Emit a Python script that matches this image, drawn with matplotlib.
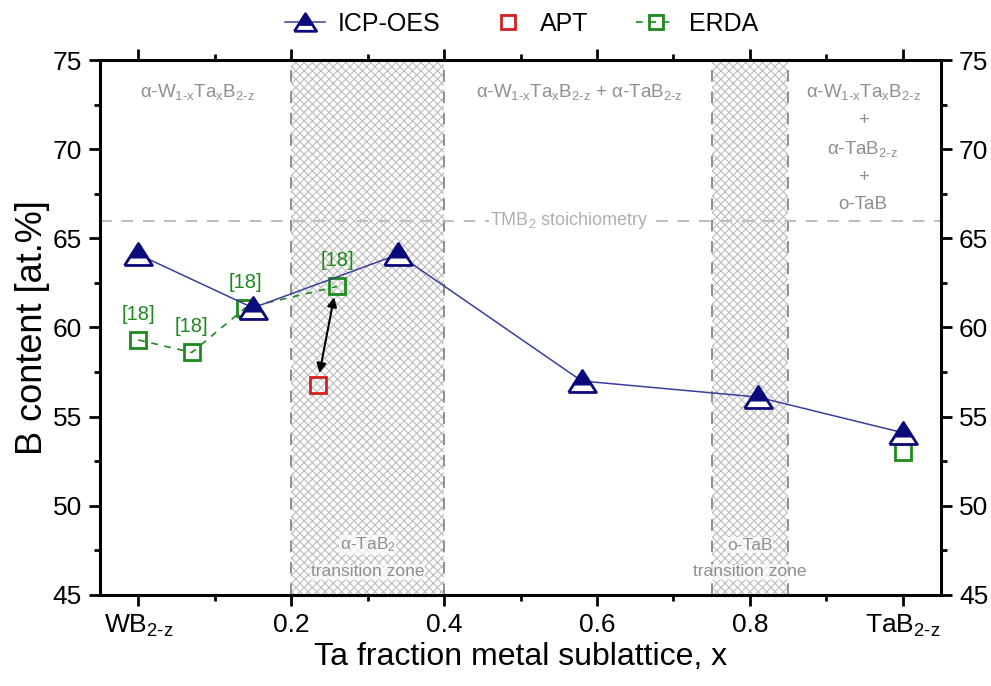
import matplotlib
matplotlib.use("Agg")
import matplotlib.pyplot as plt
from matplotlib.ticker import MultipleLocator
from matplotlib.legend_handler import HandlerTuple

plt.rcParams["font.family"] = ["Liberation Sans", "DejaVu Sans"]
plt.rcParams["mathtext.fontset"] = "custom"
plt.rcParams["mathtext.rm"] = "Liberation Sans"
plt.rcParams["mathtext.it"] = "Liberation Sans:italic"
plt.rcParams["hatch.linewidth"] = 0.8

# B-Gehalt über Ta-Anteil im Metall-Untergitter
icp_x = [0.0, 0.15, 0.34, 0.58, 0.81, 1.0]
icp_b = [64.1, 61.1, 64.1, 57.0, 56.1, 54.1]

apt_x = [0.235]
apt_b = [56.8]

erda_x = [0.0, 0.07, 0.14, 0.26]
erda_b = [59.3, 58.6, 61.1, 62.3]
erda_tab_x = [1.0]
erda_tab_b = [53.0]

zonas = [(0.2, 0.4), (0.75, 0.85)]
stoich = 66.0

xticks = [0.0, 0.2, 0.4, 0.6, 0.8, 1.0]
xlabels = ["WB$_{\\mathrm{2\u2010z}}$", "0.2", "0.4", "0.6", "0.8", "TaB$_{\\mathrm{2\u2010z}}$"]
yticks = [45, 50, 55, 60, 65, 70, 75]

navy = "#0a0a7a"
verde = "#1e8a1e"
rojo = "#d42020"
gris = "#8f8f8f"

# triangulo ancho: contorno blanco + punta rellena
tri_borde = [(-1, -0.79), (1, -0.79), (0, 0.79), (-1, -0.79)]
tri_punta = [(0, 0.79), (-0.65, -0.24), (0.65, -0.24), (0, 0.79)]
ms_tri = 20

fig = plt.figure(figsize=(9.91, 6.86), dpi=100)
ax = fig.add_axes([0.101, 0.1327, 0.8486, 0.7798])

# zonas de transicion
for x0, x1 in zonas:
    ax.axvspan(x0, x1, facecolor="white", edgecolor="#bdbdbd", hatch="xxxx", lw=0, zorder=0)
    for xv in (x0, x1):
        ax.axvline(xv, color=gris, lw=1.4, ls=(0, (6, 5)), zorder=1)

ax.axhline(stoich, color="#bdbdbd", lw=1.4, ls=(0, (6, 5)), zorder=1)
ax.text(0.564, stoich, "TMB$_{\\mathrm{2}}$ stoichiometry", color="#b0b0b0", fontsize=13,
        ha="center", va="center", zorder=2,
        bbox=dict(facecolor="white", edgecolor="none", pad=1))

# etiquetas de fases
fase = "\u03b1-W$_{\\mathrm{1\u2010x}}$Ta$_{\\mathrm{x}}$B$_{\\mathrm{2\u2010z}}$"
fs_fase = 13.5
ax.text(0.078, 73.2, fase, color=gris, fontsize=fs_fase, ha="center", va="center")
ax.text(0.577, 73.2, fase + " + \u03b1-TaB$_{\\mathrm{2\u2010z}}$", color=gris, fontsize=fs_fase,
        ha="center", va="center")
ax.text(0.948, 73.2, fase, color=gris, fontsize=fs_fase, ha="center", va="center")
for yy, t in zip([71.6, 70.0, 68.4, 66.9], ["+", "\u03b1-TaB$_{\\mathrm{2\u2010z}}$", "+", "o-TaB"]):
    ax.text(0.948, yy, t, color=gris, fontsize=fs_fase, ha="center", va="center")

caja = dict(facecolor="white", edgecolor="none", alpha=0.7, pad=0.5)
ax.text(0.3, 47.8, "\u03b1-TaB$_{\\mathrm{2}}$", color=gris, fontsize=12.5, ha="center", va="center", bbox=caja)
ax.text(0.3, 46.3, "transition zone", color=gris, fontsize=12.5, ha="center", va="center", bbox=caja)
ax.text(0.8, 47.8, "o-TaB", color=gris, fontsize=12.5, ha="center", va="center", bbox=caja)
ax.text(0.8, 46.3, "transition zone", color=gris, fontsize=12.5, ha="center", va="center", bbox=caja)

# datos
erda_l, = ax.plot(erda_x, erda_b, color=verde, lw=1.2, ls=(0, (4, 4)), marker="s", ms=12,
                  mfc="none", mec=verde, mew=2, zorder=3)
ax.plot(erda_tab_x, erda_tab_b, ls="none", marker="s", ms=12, mfc="none", mec=verde, mew=2, zorder=3)
icp_l, = ax.plot(icp_x, icp_b, color="#3a3f9a", lw=1.1, marker=tri_borde, ms=ms_tri,
                 mfc="white", mec=navy, mew=2, zorder=4)
icp_f, = ax.plot(icp_x, icp_b, ls="none", marker=tri_punta, ms=ms_tri * 0.79,
                 mfc=navy, mec=navy, mew=1, zorder=5)
apt_l, = ax.plot(apt_x, apt_b, ls="none", marker="s", ms=12, mfc="none", mec=rojo, mew=2, zorder=3)

for xx, yy in zip(erda_x, erda_b):
    ax.text(xx, yy + 1.45, "[18]", color=verde, fontsize=14.5, ha="center", va="center", zorder=6)

ax.annotate("", xy=(erda_x[3] - 0.004, erda_b[3] - 0.6), xytext=(apt_x[0] + 0.002, apt_b[0] + 0.65),
            arrowprops=dict(arrowstyle="<|-|>", color="black", lw=1.5, mutation_scale=14,
                            shrinkA=0, shrinkB=0), zorder=6)

ax.set_xlim(-0.05, 1.05)
ax.set_ylim(45, 75)
ax.set_xticks(xticks)
ax.set_xticklabels(xlabels)
ax.set_yticks(yticks)
ax.xaxis.set_minor_locator(MultipleLocator(0.1))
ax.yaxis.set_minor_locator(MultipleLocator(2.5))
ax.tick_params(which="major", direction="out", length=8, width=2, labelsize=19,
               top=True, right=True, labelright=True, pad=5)
ax.tick_params(which="minor", direction="out", length=4, width=2, top=True, right=True)
for s in ax.spines.values():
    s.set_linewidth(2.2)

ax.set_xlabel("Ta fraction metal sublattice, x", fontsize=23, labelpad=2)
ax.set_ylabel("B content [at.%]", fontsize=26, labelpad=2)

fig.legend([(icp_l, icp_f), apt_l, erda_l], ["ICP-OES", "APT", "ERDA"], loc="upper center",
           bbox_to_anchor=(0.526, 1.015), ncol=3, frameon=False, fontsize=18,
           handlelength=1.6, columnspacing=1.9, handletextpad=0.5, markerscale=0.8,
           handler_map={tuple: HandlerTuple(ndivide=1)})

fig.savefig("out.png", dpi=100)
